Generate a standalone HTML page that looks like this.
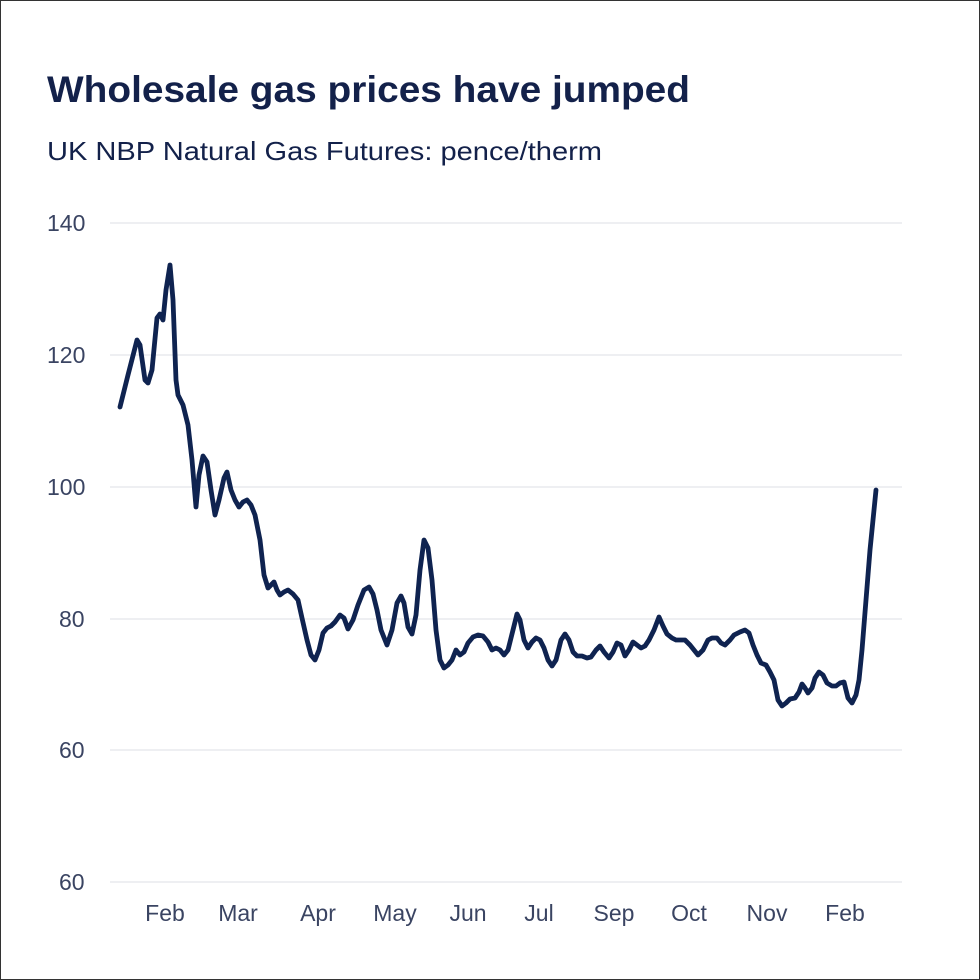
<!DOCTYPE html>
<html><head><meta charset="utf-8"><style>
html,body{margin:0;padding:0;background:#fff}
svg{display:block}
</style></head><body>
<svg width="980" height="980" viewBox="0 0 980 980" xmlns="http://www.w3.org/2000/svg" font-family="Liberation Sans, sans-serif">
<rect x="0.5" y="0.5" width="979" height="979" fill="#fff" stroke="#333" stroke-width="1"/>
<text x="47" y="102" font-size="37" font-weight="bold" fill="#13214a" textLength="643" lengthAdjust="spacingAndGlyphs">Wholesale gas prices have jumped</text>
<text x="47" y="160" font-size="26" fill="#13214a" textLength="555" lengthAdjust="spacingAndGlyphs">UK NBP Natural Gas Futures: pence/therm</text>
<g stroke="#e3e5ea" stroke-width="1.2">
<line x1="110" y1="223" x2="902" y2="223"/>
<line x1="110" y1="355" x2="902" y2="355"/>
<line x1="110" y1="487" x2="902" y2="487"/>
<line x1="110" y1="619" x2="902" y2="619"/>
<line x1="110" y1="750" x2="902" y2="750"/>
<line x1="110" y1="882" x2="902" y2="882"/>
</g>
<g font-size="23" fill="#3a4462">
<text x="47" y="231">140</text>
<text x="47" y="363">120</text>
<text x="47" y="495">100</text>
<text x="59" y="627">80</text>
<text x="59" y="758">60</text>
<text x="59" y="890">60</text>
</g>
<g font-size="23" fill="#3a4462" text-anchor="middle">
<text x="165" y="921">Feb</text>
<text x="238" y="921">Mar</text>
<text x="318" y="921">Apr</text>
<text x="395" y="921">May</text>
<text x="468" y="921">Jun</text>
<text x="539" y="921">Jul</text>
<text x="614" y="921">Sep</text>
<text x="689" y="921">Oct</text>
<text x="767" y="921">Nov</text>
<text x="845" y="921">Feb</text>
</g>
<polyline fill="none" stroke="#0f2350" stroke-width="4.8" stroke-linejoin="round" stroke-linecap="round" points="120,407 128,375 137,340 140,345 145,380 148,383 152,370 157,318 160,314 163,320 166,290 170,265 173,300 176,380 178,395 183,405 188,425 192,460 196,507 199,475 203,456 207,462 211,490 215,515 219,500 224,478 227,472 231,490 235,500 239,507 243,502 247,500 251,505 255,515 260,540 264,575 268,588 271,585 274,582 277,590 280,595 284,592 288,590 293,594 298,600 302,618 307,640 311,655 315,660 319,650 323,633 327,628 331,626 335,622 340,615 344,618 348,629 353,620 358,605 364,590 369,587 373,594 377,610 381,630 387,645 392,630 397,603 401,596 404,603 408,627 412,634 416,615 420,570 424,540 428,548 432,580 436,630 440,660 444,668 448,665 452,660 456,650 460,655 464,652 468,643 473,637 478,635 483,636 488,642 492,650 496,648 500,650 504,655 508,650 513,630 517,614 520,620 524,640 528,648 532,642 536,638 540,640 544,648 548,660 552,666 556,660 561,640 565,634 569,640 573,652 577,656 582,656 587,658 591,657 596,650 600,646 604,652 609,658 613,652 617,643 621,645 625,656 629,650 633,642 637,645 641,648 645,646 649,640 654,630 659,617 663,626 667,634 672,638 676,640 680,640 685,640 690,645 694,650 698,655 703,650 708,640 712,638 717,638 721,643 725,645 730,640 734,635 740,632 745,630 749,633 753,645 757,655 761,663 766,665 770,672 774,680 778,700 782,706 786,703 790,699 795,698 799,692 802,684 805,688 808,693 812,688 815,678 819,672 823,675 827,683 832,686 836,686 840,683 844,682 848,698 852,703 856,695 859,680 862,650 866,600 870,550 874,510 876,490"/>
</svg>
</body></html>
